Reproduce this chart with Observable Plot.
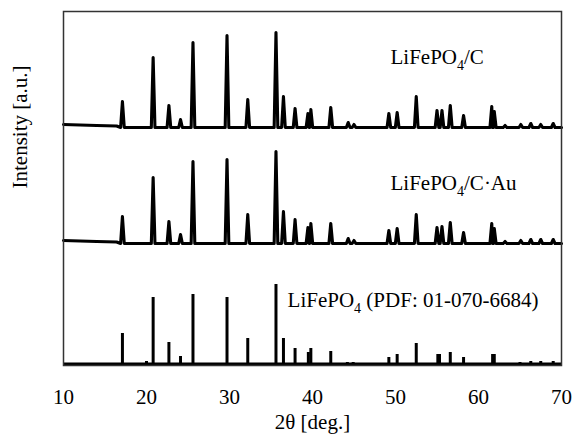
<!DOCTYPE html>
<html><head><meta charset="utf-8">
<script src="https://cdn.jsdelivr.net/npm/d3@7"></script>
<script src="https://cdn.jsdelivr.net/npm/@observablehq/plot@0.6"></script>
<style>
body{margin:0;background:#fff;}
#chart svg text, #chart svg tspan { font-family: "Liberation Serif", "Times New Roman", serif !important; }
</style>
</head><body><div id="chart"></div>
<script>
// Peak positions (2θ, deg.) shared by the two measured patterns
const peakAngles = [17.1, 20.8, 22.7, 24.1, 25.6, 29.7, 32.2, 35.6, 36.5, 37.9, 39.45, 39.8, 42.2, 44.3, 45.0, 49.2, 50.2, 52.5, 55.0, 55.6, 56.6, 58.2, 61.6, 61.9, 63.2, 65.1, 66.3, 67.5, 69.0];
// Peak heights (a.u.)
const heightsC   = [26, 70, 22, 8, 85, 92, 28, 95, 31, 19, 14, 18, 20, 5, 3, 14, 15, 31, 17, 17, 22, 12, 21, 16, 2, 3, 4, 3, 4];
const heightsCAu = [27, 66, 22, 9, 82, 84, 29, 92, 32, 24, 16, 20, 20, 5, 3, 13, 15, 29, 16, 17, 21, 11, 20, 15, 2, 3, 4, 4, 4];
// Low-angle background readings
const backgroundAngles = [10, 12, 14, 16.4];
const backgroundC   = [3, 2.5, 2, 1.5];
const backgroundCAu = [3, 2.5, 2, 1.5];
// Reference pattern (PDF 01-070-6684) stick positions and heights
const pdfAngles  = [17.1, 20.0, 20.8, 22.7, 24.1, 25.6, 29.7, 32.2, 34.6, 35.6, 36.5, 37.9, 39.5, 39.8, 42.2, 44.2, 44.9, 45.3, 49.2, 50.2, 52.5, 55.1, 55.3, 56.6, 58.2, 61.7, 61.9, 63.0, 65.0, 66.3, 67.5, 69.0];
const pdfHeights = [32, 4, 68, 23, 9, 71, 68, 27, 2, 81, 27, 17, 13, 17, 14, 3, 3, 2, 8, 11, 22, 11, 11, 13, 8, 11, 11, 2, 3, 4, 4, 4];
const seriesNames = ["LiFePO4/C", "LiFePO4/C·Au", "LiFePO4 (PDF: 01-070-6684)"];
const xTicks = [10, 20, 30, 40, 50, 60, 70];

const OFFSET_C = 238, OFFSET_AU = 122, HALF = 0.22;
const SERIF = "Liberation Serif, Times New Roman, serif";

function profile(name, heights, bg, offset) {
  const pts = [];
  backgroundAngles.forEach((a, i) => pts.push({series: name, x: a, y: offset + bg[i]}));
  peakAngles.forEach((a, i) => {
    pts.push({series: name, x: a - HALF, y: offset});
    pts.push({series: name, x: a, y: offset + heights[i]});
    pts.push({series: name, x: a + HALF, y: offset});
  });
  pts.push({series: name, x: 70, y: offset});
  return pts.sort((p, q) => p.x - q.x);
}

const lines = [
  ...profile(seriesNames[0], heightsC, backgroundC, OFFSET_C),
  ...profile(seriesNames[1], heightsCAu, backgroundCAu, OFFSET_AU)
];
const sticks = pdfAngles.map((a, i) => ({x: a, h: pdfHeights[i]}));
const labels = [
  {text: seriesNames[0], x: 49.4, y: 308},
  {text: seriesNames[1], x: 49.4, y: 182},
  {text: seriesNames[2], x: 37.0, y: 65}
];

const plot = Plot.plot({
  width: 576, height: 445,
  marginLeft: 63, marginRight: 15, marginTop: 11, marginBottom: 80,
  style: {fontFamily: "Liberation Serif", fontSize: "21px"},
  x: {domain: [10, 70]},
  y: {domain: [0, 354], axis: null},
  marks: [
    Plot.ruleX(sticks, {x: "x", y1: 0, y2: "h", stroke: "#000", strokeWidth: 3}),
    Plot.ruleY([1.5], {stroke: "#000", strokeWidth: 3}),
    Plot.line(lines, {x: "x", y: "y", z: "series", stroke: "#000", strokeWidth: 3.1, strokeLinejoin: "round"}),
    Plot.frame({stroke: "#333", strokeWidth: 1.5}),
    Plot.axisX({ticks: xTicks, tickSize: 0, tickPadding: 24, label: null, fontSize: 21, fontFamily: SERIF}),
    Plot.text(labels, {x: "x", y: "y", text: "text", textAnchor: "start", fontSize: 21, fontFamily: SERIF}),
    Plot.text(["2θ [deg.]"], {frameAnchor: "bottom", dy: 63, fontSize: 21, fontFamily: SERIF}),
    Plot.text(["Intensity [a.u.]"], {frameAnchor: "left", dx: -43, rotate: -90, fontSize: 21, fontFamily: SERIF})
  ]
});

d3.select(plot).selectAll("text").each(function () {
  const m = this.textContent.match(/^(LiFePO)4(.*)$/);
  if (m) {
    const s = d3.select(this);
    s.text(null);
    s.append("tspan").text(m[1]);
    s.append("tspan").attr("dy", 6).attr("font-size", 14).text("4");
    s.append("tspan").attr("dy", -6).text(m[2]);
  }
});
document.getElementById("chart").appendChild(plot);
</script>
</body></html>
